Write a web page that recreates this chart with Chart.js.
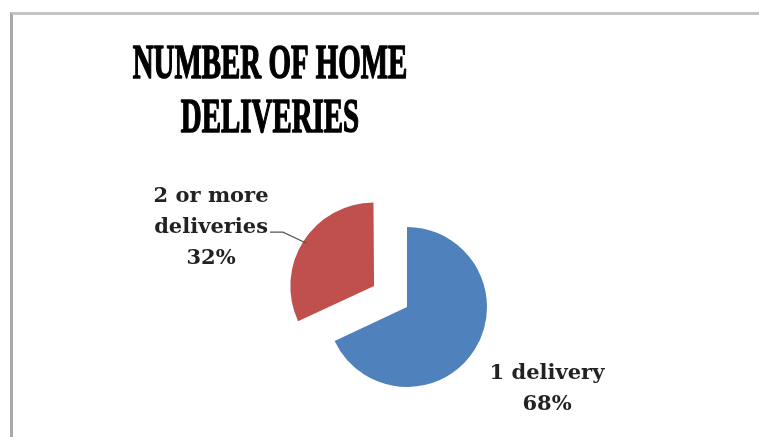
<!DOCTYPE html>
<html lang="en">
<head>
    <meta charset="UTF-8">
    <title>Number of Home Deliveries</title>
    <script src="https://cdn.jsdelivr.net/npm/chart.js"></script>
    <style>
        html, body { margin: 0; padding: 0; background: #fff; }
        .wrap { position: relative; width: 759px; height: 437px; overflow: hidden; }
        /* chart frame, cut off at the right and bottom */
        .frame {
            position: absolute; left: 10px; top: 12px; width: 800px; height: 500px;
            border-top: 3px solid #c4c4c4; border-left: 3px solid #a9a9a9;
        }
        canvas { position: absolute; left: 0; top: 0; }
    </style>
</head>
<body>
    <div class="wrap">
        <div class="frame"></div>
        <canvas id="deliveriesChart" width="759" height="437"></canvas>
    </div>

    <script>
        const titleLines = ['NUMBER OF HOME', 'DELIVERIES'];
        const categories = [['1 delivery'], ['2 or more', 'deliveries']];
        const shares = [68, 32];
        const sliceColors = ['#4F81BD', '#C0504D'];
        const explode = [0, 156];

        // condensed bold serif title, drawn straight onto the canvas
        const titlePlugin = {
            id: 'condensedTitle',
            afterDraw(chart, args, opts) {
                const ctx = chart.ctx;
                ctx.save();
                ctx.fillStyle = '#000';
                ctx.strokeStyle = '#000';
                ctx.lineWidth = 1.6;
                ctx.lineJoin = 'round';
                ctx.font = 'bold 49px "Liberation Serif"';
                ctx.textAlign = 'center';
                ctx.textBaseline = 'alphabetic';
                titleLines.forEach((line, i) => {
                    ctx.save();
                    ctx.translate(opts.x, opts.baseline + i * opts.lineGap);
                    ctx.scale(opts.squeeze, 1);
                    ctx.fillText(line, 0, 0);
                    ctx.strokeText(line, 0, 0);
                    ctx.restore();
                });
                ctx.restore();
            }
        };

        // category + percent labels beside each slice, with a leader line where asked
        const sliceLabels = {
            id: 'sliceLabels',
            afterDatasetsDraw(chart, args, opts) {
                const ctx = chart.ctx;
                const meta = chart.getDatasetMeta(0);
                const total = shares.reduce((a, b) => a + b, 0);
                ctx.save();
                ctx.font = 'bold 21px "DejaVu Serif"';
                ctx.fillStyle = '#222';
                ctx.textAlign = 'center';
                ctx.textBaseline = 'middle';
                meta.data.forEach((arc, i) => {
                    const p = arc.getProps(['x', 'y', 'startAngle', 'endAngle', 'outerRadius']);
                    const mid = (p.startAngle + p.endAngle) / 2;
                    const shift = explode[i] / 4;
                    const vx = p.x + Math.cos(mid) * shift;
                    const vy = p.y + Math.sin(mid) * shift;
                    const cx = vx + opts.nudge[i][0];
                    const cy = vy + opts.nudge[i][1];
                    const lines = categories[i].concat([Math.round(shares[i] / total * 100) + '%']);
                    const top = cy - (lines.length - 1) * opts.lineHeight / 2;
                    lines.forEach((t, k) => ctx.fillText(t, cx, top + k * opts.lineHeight));

                    if (opts.leader[i]) {
                        const row = lines.length > 2 ? 1 : 0;
                        const w = ctx.measureText(lines[row]).width;
                        const sx = cx + w / 2 + 2;
                        const sy = top + row * opts.lineHeight + 5;
                        const ex = vx + Math.cos(mid) * p.outerRadius;
                        const ey = vy + Math.sin(mid) * p.outerRadius;
                        ctx.beginPath();
                        ctx.strokeStyle = '#555';
                        ctx.lineWidth = 1.2;
                        ctx.moveTo(sx, sy);
                        ctx.lineTo(sx + 13, sy);
                        ctx.lineTo(ex, ey);
                        ctx.stroke();
                    }
                });
                ctx.restore();
            }
        };

        new Chart(document.getElementById('deliveriesChart'), {
            type: 'pie',
            data: {
                labels: categories.map(c => c.join(' ')),
                datasets: [{
                    data: shares,
                    backgroundColor: sliceColors,
                    borderWidth: 0,
                    offset: explode
                }]
            },
            options: {
                responsive: false,
                animation: false,
                radius: 80,
                layout: { padding: { left: 55, right: 0, top: 177, bottom: 0 } },
                plugins: {
                    legend: { display: false },
                    tooltip: { enabled: false },
                    title: { display: false },
                    condensedTitle: { x: 270, baseline: 78, lineGap: 54, squeeze: 0.59 },
                    sliceLabels: {
                        lineHeight: 31,
                        nudge: [[140, 82], [-163, -59]],
                        leader: [false, true]
                    }
                }
            },
            plugins: [titlePlugin, sliceLabels]
        });
    </script>
</body>
</html>
